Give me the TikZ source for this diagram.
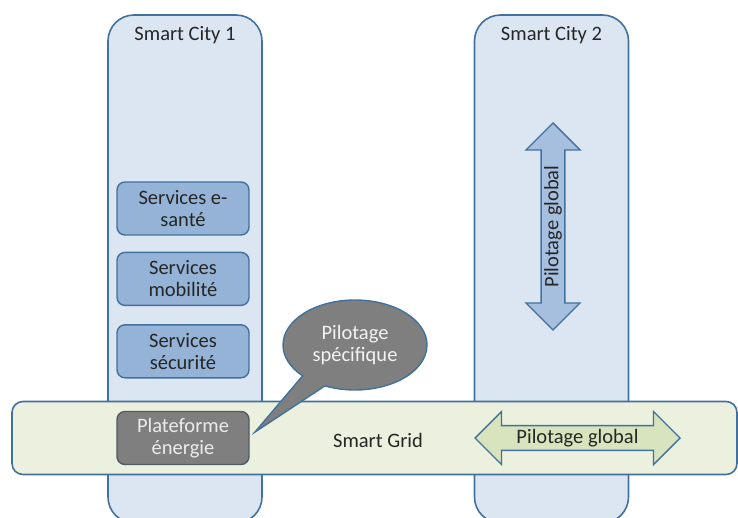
\documentclass[tikz,border=0pt]{standalone}
\usepackage{fontspec}
\setmainfont{Carlito}
\usetikzlibrary{arrows.meta,positioning,shapes.geometric,shapes.arrows,shapes.callouts}
\definecolor{blueline}{HTML}{41719C}
\definecolor{cityfill}{HTML}{DCE6F2}
\definecolor{gridfill}{HTML}{EBF1DE}
\definecolor{servfill}{HTML}{95B3D7}
\definecolor{greyfill}{HTML}{7F7F7F}
\definecolor{greyline}{HTML}{4F5B66}
\definecolor{greenfill}{HTML}{D7E4BD}
\definecolor{vfill}{HTML}{A6BFDF}

\begin{document}
\begin{tikzpicture}[
  x=1pt,y=-1pt,
  font=\fontsize{20.5}{22}\selectfont,
  node distance=16pt,
  city/.style={draw=blueline,line width=1.6pt,fill=cityfill,rounded corners=26pt,minimum width=154pt,minimum height=508pt,inner sep=0pt},
  title/.style={inner sep=0pt,text=black!85},
  gridbar/.style={draw=blueline,line width=1.6pt,fill=gridfill,rounded corners=11pt,minimum width=725pt,minimum height=73pt},
  servbox/.style={draw=blueline,line width=1.4pt,fill=servfill,rounded corners=8pt,align=center,minimum width=132pt,minimum height=53pt,inner sep=1pt,text=black!85},
  platbox/.style={servbox,draw=greyline,fill=greyfill,text=white!92!black},
  bubble/.style={ellipse callout,draw=blueline,line width=1.4pt,fill=greyfill,align=center,text=white!95!black,minimum width=144pt,minimum height=90pt,callout pointer arc=22},
  pilarrow/.style={double arrow,draw=blueline,line width=1.4pt,inner sep=1pt,text=black!85}
]
\useasboundingbox (0,0) rectangle (738,518);
% the two cities
\node[city] (city1) at (185,269) {};
\node[city] (city2) at (551.5,269) {};
\node[title,below=12pt of city1.north] (t1) {Smart City 1};
\node[title,below=12pt of city2.north] (t2) {Smart City 2};
% smart grid
\node[gridbar] (grid) at (374.5,438) {};
\node[title] (gridlab) at (378,440) {Smart Grid};
% services of city 1
\node[servbox] (sante) at (183,208.5) {Services e-\\santé};
\node[servbox,below=of sante] (mobil) {Services\\mobilité};
\node[servbox,below=18pt of mobil] (secur) {Services\\sécurité};
\node[platbox] (plat) at (183,438) {Plateforme\\énergie};
% control
\coordinate (tip) at (255,432);
\node[bubble,callout absolute pointer=(tip)] (spec) at (355,345) {Pilotage\\spécifique};
\node[pilarrow,fill=vfill,rotate=90,minimum height=207pt,minimum width=54pt,double arrow head extend=13.5pt] (vpil) at (553,226.5) {Pilotage global};
\node[pilarrow,fill=greenfill,minimum height=205pt,minimum width=53pt,double arrow head extend=12pt] (hpil) at (577.5,438) {Pilotage global};
\end{tikzpicture}
\end{document}
